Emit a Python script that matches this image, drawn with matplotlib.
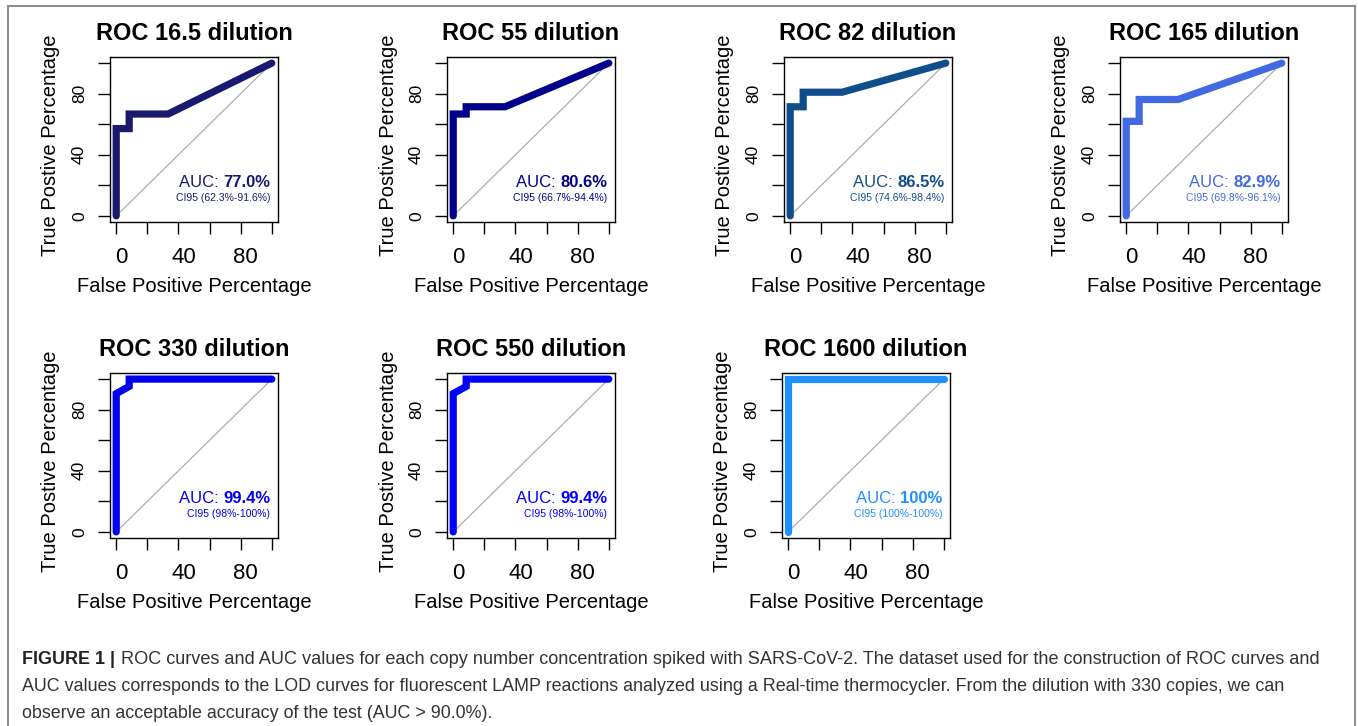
import matplotlib
matplotlib.use("Agg")
import matplotlib.pyplot as plt
from matplotlib.lines import Line2D
from matplotlib.transforms import ScaledTranslation

plt.rcParams['font.family'] = ['Liberation Sans', 'DejaVu Sans']

W, H, DPI = 1358, 726, 100

# ---------------- data ----------------
titles = ["ROC 16.5 dilution", "ROC 55 dilution", "ROC 82 dilution", "ROC 165 dilution",
          "ROC 330 dilution", "ROC 550 dilution", "ROC 1600 dilution"]
colors = ["#191970", "#00008B", "#104E8B", "#4169E1", "#0000EE", "#0000FF", "#1E90FF"]

fpr_16_5 = [0, 0, 8.33, 8.33, 33.33, 100]
tpr_16_5 = [0, 57.14, 57.14, 66.67, 66.67, 100]
fpr_55 = [0, 0, 8.33, 8.33, 33.33, 100]
tpr_55 = [0, 66.67, 66.67, 71.43, 71.43, 100]
fpr_82 = [0, 0, 8.33, 8.33, 33.33, 100]
tpr_82 = [0, 71.43, 71.43, 80.95, 80.95, 100]
fpr_165 = [0, 0, 8.33, 8.33, 33.33, 100]
tpr_165 = [0, 61.90, 61.90, 76.19, 76.19, 100]
fpr_330 = [0, 0, 8.33, 8.33, 100]
tpr_330 = [0, 90.48, 95.24, 100, 100]
fpr_550 = [0, 0, 8.33, 8.33, 100]
tpr_550 = [0, 90.48, 95.24, 100, 100]
fpr_1600 = [0, 0, 100]
tpr_1600 = [0, 100, 100]

auc_values = ["77.0%", "80.6%", "86.5%", "82.9%", "99.4%", "99.4%", "100%"]
ci95_labels = ["CI95 (62.3%-91.6%)", "CI95 (66.7%-94.4%)", "CI95 (74.6%-98.4%)",
               "CI95 (69.8%-96.1%)", "CI95 (98%-100%)", "CI95 (98%-100%)", "CI95 (100%-100%)"]

tick_values = [0, 20, 40, 60, 80, 100]
tick_labels = ["0", "", "40", "", "80", ""]

xlabel_text = "False Positive Percentage"
ylabel_text = "True Postive Percentage"

caption_bold = "FIGURE 1 |"
caption_lines = [
    "ROC curves and AUC values for each copy number concentration spiked with SARS-CoV-2. The dataset used for the construction of ROC curves and",
    "AUC values corresponds to the LOD curves for fluorescent LAMP reactions analyzed using a Real-time thermocycler. From the dilution with 330 copies, we can",
    "observe an acceptable accuracy of the test (AUC > 90.0%).",
]

fprs = [fpr_16_5, fpr_55, fpr_82, fpr_165, fpr_330, fpr_550, fpr_1600]
tprs = [tpr_16_5, tpr_55, tpr_82, tpr_165, tpr_330, tpr_550, tpr_1600]

# ---------------- layout ----------------
fig = plt.figure(figsize=(W / DPI, H / DPI), dpi=DPI)
fig.patch.set_facecolor("white")
renderer = fig.canvas.get_renderer()

positions = [(110, 57), (447, 57), (784, 57), (1120, 57),
             (110, 373), (447, 373), (782, 373)]
BW, BH = 168, 165


def px_offset(dx, dy):
    return ScaledTranslation(dx / DPI, dy / DPI, fig.dpi_scale_trans)


for i in range(7):
    x0, y0 = positions[i]
    ax = fig.add_axes([x0 / W, (H - y0 - BH) / H, BW / W, BH / H])
    ax.set_xlim(-4, 104)
    ax.set_ylim(-4, 104)
    ax.plot([0, 100], [0, 100], color="#adadad", lw=0.9, zorder=1)
    ax.plot(fprs[i], tprs[i], color=colors[i], lw=5.2,
            solid_capstyle="round", solid_joinstyle="miter", zorder=2)

    ax.set_xticks(tick_values, tick_labels, fontsize=16)
    ax.set_yticks(tick_values, tick_labels, fontsize=12.5, rotation=90, va="center")
    ax.tick_params(axis="both", direction="out", length=8.6, width=1.0, color="black")
    ax.tick_params(axis="x", pad=9.6)
    ax.tick_params(axis="y", pad=8.0)
    for tk in ax.xaxis.get_major_ticks():
        tk.label1.set_transform(tk.label1.get_transform() + px_offset(5, 0))
    for s in ax.spines.values():
        s.set_linewidth(1.0)
        s.set_color("black")

    ax.set_xlabel(xlabel_text, fontsize=14.5, va="center")
    ax.xaxis.set_label_coords(0.5, -(287 - 222) / BH)
    ax.set_ylabel(ylabel_text, fontsize=14.5, va="center")
    ax.yaxis.set_label_coords((51 - 110) / BW, 1 - (145 - 57) / BH)

    ax.text(0.5, 1.0, titles[i], transform=ax.transAxes + px_offset(0, 17),
            ha="center", va="baseline", fontsize=17, fontweight="bold", color="black")

    # AUC annotation: regular "AUC: " + bold value
    tb = ax.text(99, 19, auc_values[i], ha="right", va="baseline", fontsize=12,
                 fontweight="bold", color=colors[i])
    wb = tb.get_window_extent(renderer).width
    ax.text(99, 19, "AUC: ", transform=ax.transData + px_offset(-wb, 0),
            ha="right", va="baseline", fontsize=12, color=colors[i])
    ax.text(99, 10, ci95_labels[i], ha="right", va="baseline", fontsize=7.5,
            color=colors[i])

# ---------------- frame ----------------
frame_col = "#8c8c8c"
fig.add_artist(Line2D([8 / W, 1355 / W], [1 - 6 / H, 1 - 6 / H], transform=fig.transFigure,
                      color=frame_col, lw=1.5))
fig.add_artist(Line2D([8 / W, 8 / W], [0, 1 - 6 / H], transform=fig.transFigure,
                      color=frame_col, lw=1.5))
fig.add_artist(Line2D([1355 / W, 1355 / W], [0, 1 - 6 / H], transform=fig.transFigure,
                      color=frame_col, lw=1.5))

# ---------------- caption ----------------
def fit_size(text, target_w, base=12.0, **kw):
    p = fig.text(0, 0, text, fontsize=base, **kw)
    w = p.get_window_extent(renderer).width
    p.remove()
    return base * target_w / w


cap_fs = fit_size(caption_lines[1], 1287 - 22)
baselines = [664, 691, 718]
xb = 22
tb = fig.text(xb / W, 1 - baselines[0] / H, caption_bold, fontsize=cap_fs, fontweight="bold",
              color="#222222", ha="left", va="baseline")
wb = tb.get_window_extent(renderer).width
x1 = xb + wb + 6
fs1 = fit_size(caption_lines[0], 1323 - x1)
fig.text(x1 / W, 1 - baselines[0] / H, caption_lines[0], fontsize=fs1,
         color="#333333", ha="left", va="baseline")
fig.text(xb / W, 1 - baselines[1] / H, caption_lines[1], fontsize=cap_fs,
         color="#333333", ha="left", va="baseline")
fig.text(xb / W, 1 - baselines[2] / H, caption_lines[2], fontsize=cap_fs,
         color="#333333", ha="left", va="baseline")

fig.savefig("out.png", dpi=DPI, facecolor="white")
